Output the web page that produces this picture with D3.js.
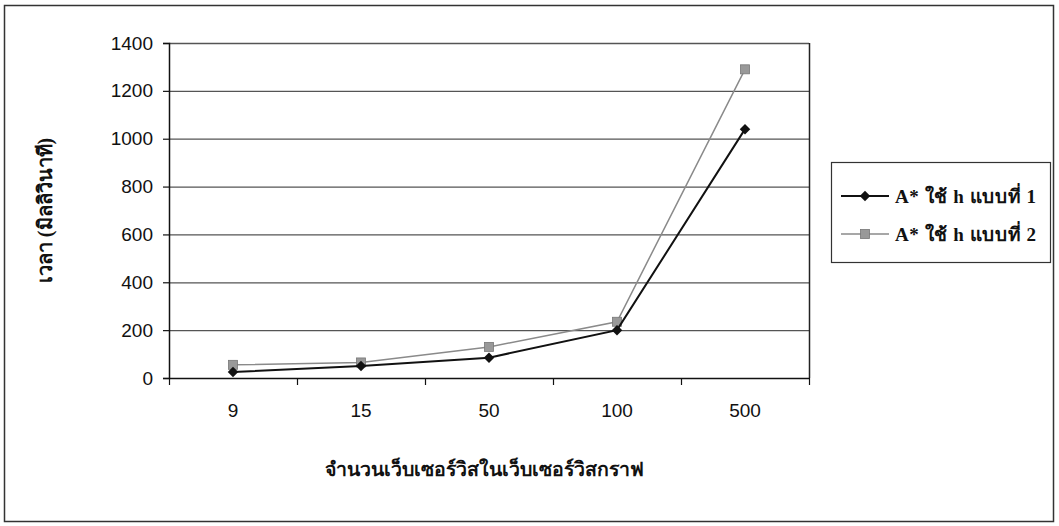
<!DOCTYPE html>
<html>
<head>
<meta charset="utf-8">
<script src="https://cdn.jsdelivr.net/npm/d3@7"></script>
<style>
  html, body { margin: 0; padding: 0; background: #fff; }
  svg { display: block; }
</style>
</head>
<body>
<svg id="chart" width="1059" height="526"></svg>
<script>
// Web service count per graph (x categories)
const categories = ["9", "15", "50", "100", "500"];
// Run time in milliseconds for each heuristic
const seriesH1 = [25, 50, 85, 200, 1040];
const seriesH2 = [55, 65, 130, 235, 1290];
const yTicks = [0, 200, 400, 600, 800, 1000, 1200, 1400];
const seriesNames = ["A* ใช้ h แบบที่ 1", "A* ใช้ h แบบที่ 2"];

const svg = d3.select("#chart");
const W = 1059, H = 526;
const plot = { left: 169, right: 809, top: 43, bottom: 378 };
const sans = "Liberation Sans, Arial, sans-serif";
const serif = "Liberation Serif, DejaVu Serif, serif";

// outer frame
svg.append("rect")
  .attr("x", 4.5).attr("y", 5.5)
  .attr("width", W - 10).attr("height", H - 10)
  .attr("fill", "none").attr("stroke", "#333").attr("stroke-width", 1.5);

const x = d3.scaleBand().domain(categories).range([plot.left, plot.right]);
const y = d3.scaleLinear().domain([0, 1400]).range([plot.bottom, plot.top]);

// horizontal gridlines
svg.append("g").selectAll("line").data(yTicks.filter(d => d > 0)).join("line")
  .attr("x1", plot.left).attr("x2", plot.right)
  .attr("y1", d => y(d) + 0.5).attr("y2", d => y(d) + 0.5)
  .attr("stroke", "#555").attr("stroke-width", 1.3);

// right border of plot area
svg.append("line")
  .attr("x1", plot.right + 0.5).attr("x2", plot.right + 0.5)
  .attr("y1", plot.top).attr("y2", plot.bottom)
  .attr("stroke", "#222").attr("stroke-width", 1.5);

// y axis
const yAxis = d3.axisLeft(y).tickValues(yTicks).tickFormat(d3.format("d"))
  .tickSize(6).tickPadding(10);
const gy = svg.append("g").attr("transform", `translate(${plot.left},0)`).call(yAxis);
gy.select(".domain").attr("stroke", "#111").attr("stroke-width", 1.5);
gy.selectAll(".tick line").attr("stroke", "#111").attr("stroke-width", 1.2);
gy.selectAll("text")
  .attr("font-family", sans).attr("font-size", 19).attr("fill", "#111");

// x axis: ticks sit between categories
const gx = svg.append("g").attr("transform", `translate(0,${plot.bottom})`);
gx.append("line")
  .attr("x1", plot.left).attr("x2", plot.right + 1)
  .attr("y1", 0.5).attr("y2", 0.5)
  .attr("stroke", "#111").attr("stroke-width", 1.5);
const bounds = categories.map(c => x(c)).concat([plot.right]);
gx.selectAll("line.tk").data(bounds).join("line").attr("class", "tk")
  .attr("x1", d => d + 0.5).attr("x2", d => d + 0.5)
  .attr("y1", 0).attr("y2", 7)
  .attr("stroke", "#111").attr("stroke-width", 1.2);
gx.selectAll("text").data(categories).join("text")
  .attr("x", d => x(d) + x.bandwidth() / 2)
  .attr("y", 39)
  .attr("text-anchor", "middle")
  .attr("font-family", sans).attr("font-size", 19).attr("fill", "#111")
  .text(d => d);

const cx = c => x(c) + x.bandwidth() / 2;
const line = d3.line().x((d, i) => cx(categories[i])).y(d => y(d));

// series 2 (gray squares)
svg.append("path").datum(seriesH2)
  .attr("d", line).attr("fill", "none")
  .attr("stroke", "#8a8a8a").attr("stroke-width", 1.5);
svg.append("g").selectAll("rect").data(seriesH2).join("rect")
  .attr("x", (d, i) => cx(categories[i]) - 4.5)
  .attr("y", d => y(d) - 4.5)
  .attr("width", 9).attr("height", 9)
  .attr("fill", "#999").attr("stroke", "#777").attr("stroke-width", 0.8);

// series 1 (black diamonds)
svg.append("path").datum(seriesH1)
  .attr("d", line).attr("fill", "none")
  .attr("stroke", "#111").attr("stroke-width", 2);
const diamond = d3.symbol().type(d3.symbolDiamond2).size(70);
svg.append("g").selectAll("path").data(seriesH1).join("path")
  .attr("d", diamond)
  .attr("transform", (d, i) => `translate(${cx(categories[i])},${y(d)})`)
  .attr("fill", "#111");

// axis titles
svg.append("text")
  .attr("transform", `translate(52,${(plot.top + plot.bottom) / 2}) rotate(-90)`)
  .attr("text-anchor", "middle")
  .attr("font-family", serif)
  .attr("font-size", 20).attr("font-weight", "bold").attr("fill", "#111")
  .text("เวลา (มิลลิวินาที)");

svg.append("text")
  .attr("x", 484).attr("y", 476)
  .attr("text-anchor", "middle")
  .attr("font-family", serif)
  .attr("font-size", 19.5).attr("font-weight", "bold").attr("fill", "#111")
  .text("จำนวนเว็บเซอร์วิสในเว็บเซอร์วิสกราฟ");

// legend
const lg = svg.append("g").attr("transform", "translate(831,162)");
lg.append("rect")
  .attr("x", 0.5).attr("y", 0.5).attr("width", 219).attr("height", 100)
  .attr("fill", "#fff").attr("stroke", "#333").attr("stroke-width", 1.2);
const items = [
  { name: seriesNames[0], yy: 34, color: "#111", w: 2, shape: "diamond" },
  { name: seriesNames[1], yy: 72, color: "#8a8a8a", w: 1.5, shape: "square" }
];
items.forEach(it => {
  lg.append("line").attr("x1", 10).attr("x2", 58)
    .attr("y1", it.yy).attr("y2", it.yy)
    .attr("stroke", it.color).attr("stroke-width", it.w);
  if (it.shape === "diamond") {
    lg.append("path").attr("d", diamond)
      .attr("transform", `translate(34,${it.yy})`).attr("fill", "#111");
  } else {
    lg.append("rect").attr("x", 29.5).attr("y", it.yy - 4.5)
      .attr("width", 9).attr("height", 9)
      .attr("fill", "#999").attr("stroke", "#777").attr("stroke-width", 0.8);
  }
  lg.append("text").attr("x", 64).attr("y", it.yy + 7)
    .attr("font-family", serif)
    .attr("font-size", 19).attr("font-weight", "bold").attr("fill", "#111")
    .attr("letter-spacing", 0.6)
    .text(it.name);
});
</script>
</body>
</html>
